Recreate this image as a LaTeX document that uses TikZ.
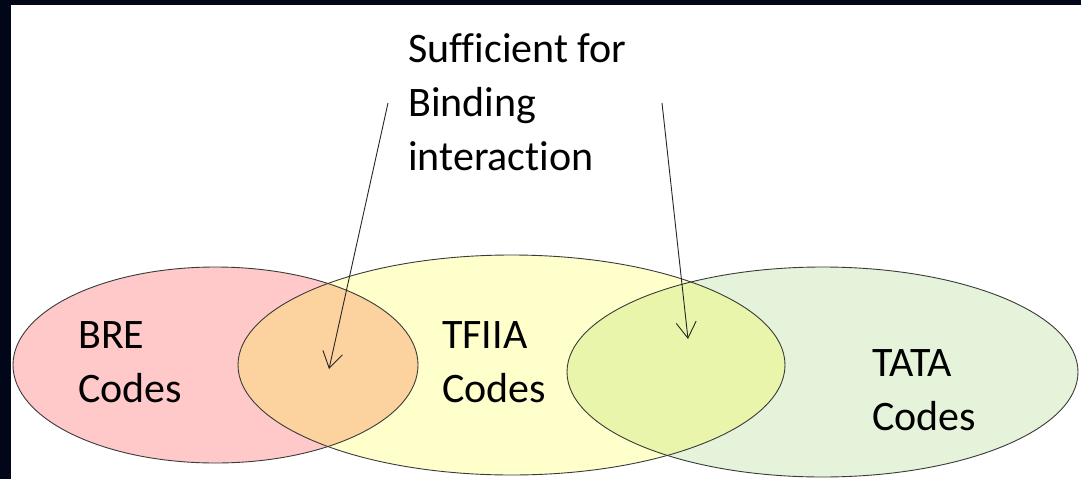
\documentclass[tikz,border=0pt]{standalone}
\usepackage{fontspec}
\setmainfont[Ligatures=NoCommon]{Carlito}
\usetikzlibrary{arrows.meta}
\definecolor{frame}{RGB}{1,7,24}
\definecolor{brefill}{RGB}{255,201,201}
\definecolor{tfiiafill}{RGB}{255,255,204}
\definecolor{tatafill}{RGB}{229,243,218}
\definecolor{lensA}{RGB}{252,211,159}
\definecolor{lensB}{RGB}{232,245,170}
\definecolor{rim}{RGB}{58,58,58}
\tikzset{
  setline/.style={draw=rim, line width=0.9pt},
  label/.style={anchor=base west, inner sep=0pt, align=left, font=\fontsize{42}{54}\selectfont},
  pointer/.style={line width=0.9pt, draw=black!85, -{Straight Barb[length=16pt,width=20pt,line width=0.9pt]}}
}
\begin{document}
\begin{tikzpicture}[x=1pt,y=-1pt]
  \useasboundingbox (0,0) rectangle (1081,479);
  % dark frame along the top and left edges
  \fill[frame] (0,0) rectangle (1081,5);
  \fill[frame] (0,0) rectangle (11,479);
  % the three sets
  \def\brepath{(215.5,365) ellipse [x radius=202.5, y radius=98]}
  \def\tfpath{(511.5,365) ellipse [x radius=273.5, y radius=110]}
  \def\tatapath{(822.5,372) ellipse [x radius=255.5, y radius=105]}
  \fill[brefill] \brepath;
  \fill[tfiiafill] \tfpath;
  \fill[tatafill] \tatapath;
  \begin{scope}
    \clip \tfpath;
    \fill[lensA] \brepath;
    \fill[lensB] \tatapath;
  \end{scope}
  \draw[setline] \brepath;
  \draw[setline] \tfpath;
  \draw[setline] \tatapath;
  % labels (anchored at the baseline of their last line)
  \node[label] (bre) at (78,402) {BRE\\Codes};
  \node[label] (tfiia) at (442,402) {TFIIA\\Codes};
  \node[label] (tata) at (872,430) {TATA\\Codes};
  \node[label] (note) at (408,170) {Sufficient for\\Binding\\interaction};
  % pointers into the overlaps
  \coordinate (pA) at (388,103);
  \coordinate (tipA) at (329,369);
  \coordinate (pB) at (662,103);
  \coordinate (tipB) at (688,339);
  \draw[pointer] (pA) -- (tipA);
  \draw[pointer] (pB) -- (tipB);
\end{tikzpicture}
\end{document}
